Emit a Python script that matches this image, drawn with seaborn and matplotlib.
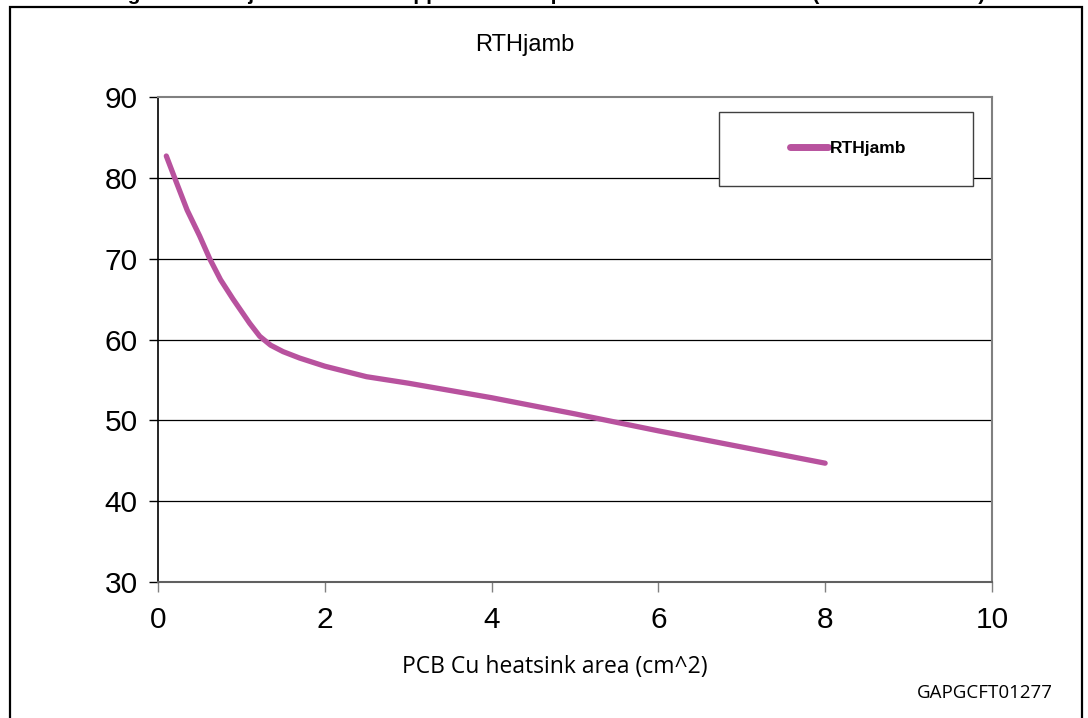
import pandas as pd
import matplotlib.pyplot as plt
import seaborn as sns
from matplotlib.patches import Rectangle

# values
area = [0.1, 0.2, 0.35, 0.5, 0.62, 0.75, 0.9, 1.0, 1.1, 1.22, 1.35, 1.5, 1.7, 2, 2.5, 3, 4, 5, 6, 7, 8]
rth = [82.7, 80.0, 76.0, 72.8, 70.0, 67.4, 65.0, 63.5, 62.0, 60.4, 59.3, 58.5, 57.7, 56.7, 55.4, 54.6, 52.8, 50.8, 48.7, 46.7, 44.7]
series_name = "RTHjamb"
xticks = [0, 2, 4, 6, 8, 10]
yticks = [30, 40, 50, 60, 70, 80, 90]

df = pd.DataFrame({"area": area, "rth": rth, "series": series_name})

sns.set_style("white")
plt.rcParams["font.family"] = ["Liberation Sans", "DejaVu Sans"]
plt.rcParams["text.color"] = "black"
plt.rcParams["xtick.labelcolor"] = "black"
plt.rcParams["ytick.labelcolor"] = "black"

fig = plt.figure(figsize=(10.88, 7.18), dpi=100)
ax = fig.add_axes([0.1452, 0.1894, 0.7665, 0.6755])

sns.lineplot(data=df, x="area", y="rth", hue="series", palette=["#B8529E"],
             linewidth=3.8, ax=ax, legend=False,
             solid_capstyle="round", solid_joinstyle="round")

ax.set_xlim(0, 10)
ax.set_ylim(30, 90)
ax.set_xticks(xticks)
ax.set_yticks(yticks)
ax.set_xlabel("")
ax.set_ylabel("")
ax.tick_params(axis="y", labelsize=21.5, length=6.5, width=1, color="black", pad=8, left=True)
ax.tick_params(axis="x", labelsize=21.5, length=7, width=1, color="#808080", pad=10, bottom=True)

for y in yticks[1:-1]:
    ax.axhline(y, color="black", linewidth=0.9, zorder=0)

ax.spines["left"].set_color("black")
ax.spines["left"].set_linewidth(1.2)
for s in ["top", "right", "bottom"]:
    ax.spines[s].set_color("#808080")
    ax.spines[s].set_linewidth(1.5)
ax.spines["bottom"].set_color("#606060")

# legend box
ax.add_patch(Rectangle((0.673, 0.816), 0.304, 0.153, transform=ax.transAxes,
                       facecolor="white", edgecolor="#404040", linewidth=1.0, zorder=5))
handle = plt.Line2D([], [], color="#B8529E", linewidth=5, solid_capstyle="round")
leg = ax.legend([handle], [series_name], loc="center", bbox_to_anchor=(0.828, 0.893),
                frameon=False, handlelength=2.2, handletextpad=0.1,
                prop={"weight": "bold", "size": 12.5})
leg.set_zorder(6)

# texts
fig.text(0.4825, 0.937, series_name, ha="center", va="center", fontsize=17)
fig.text(0.51, 0.071, "PCB Cu heatsink area (cm^2)", ha="center", va="center",
         fontsize=16.5, family=["Open Sans", "DejaVu Sans"])
fig.text(0.968, 0.035, "GAPGCFT01277", ha="right", va="center",
         fontsize=13.5, family=["Open Sans", "DejaVu Sans"])
# caption cut off at the top of the image
fig.text(0.503, 1.0, "Figure 43. Rthj-amb vs PCB copper area in open box free air condition (one channel ON)",
         ha="center", va="baseline", fontsize=15, fontweight="bold")

# outer frame
fig.patches.append(Rectangle((0.0092, -0.05), 0.9853, 1.0403, transform=fig.transFigure,
                             fill=False, edgecolor="black", linewidth=1.6))

fig.savefig("out.png", dpi=100)
